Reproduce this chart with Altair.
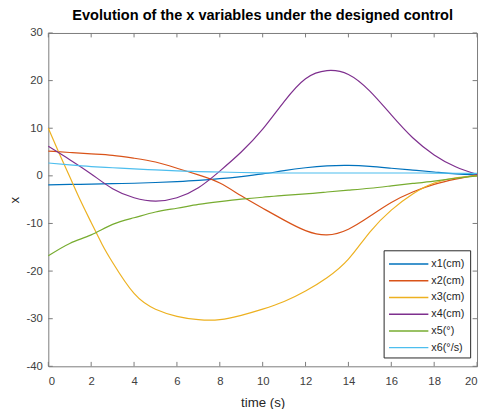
import altair as alt
import pandas as pd

t = list(range(0, 21))
t3 = [0, 0.5, 1, 1.5, 2, 2.5, 3, 4, 5, 6, 7, 8, 9, 10, 11, 12, 13, 14, 15, 16, 17, 18, 19, 20]

x1 = [-1.9, -1.8, -1.75, -1.65, -1.55, -1.4, -1.2, -0.95, -0.6, -0.15, 0.4, 1.1, 1.7, 2.1, 2.2, 2.0, 1.6, 1.2, 0.8, 0.4, 0.2]
x2 = [5.2, 4.9, 4.6, 4.3, 3.7, 2.9, 1.6, 0.2, -1.5, -4.2, -6.8, -9.3, -11.5, -12.4, -11.2, -8.5, -5.6, -3.4, -1.8, -0.7, 0.2]
x3 = [10, 4.8, -0.2, -5.2, -9.8, -14.3, -18.2, -24.7, -28.0, -29.5, -30.2, -30.2, -29.3, -28.0, -26.4, -24.2, -21.4, -17.5, -11.8, -7.2, -3.8, -1.5, -0.4, 0]
x4 = [6.2, 3.4, 0.4, -2.7, -4.6, -5.3, -4.6, -2.5, 1.0, 5.0, 9.8, 15.6, 20.4, 22.1, 21.3, 17.8, 12.8, 8.0, 4.4, 1.9, 0.3]
x5 = [-16.8, -14.2, -12.4, -10.2, -8.8, -7.6, -6.8, -6.0, -5.4, -4.9, -4.5, -4.1, -3.8, -3.4, -3.0, -2.6, -2.1, -1.6, -1.1, -0.5, 0.0]
x6 = [2.7, 2.3, 1.95, 1.7, 1.45, 1.25, 1.05, 0.9, 0.8, 0.7, 0.62, 0.6, 0.6, 0.6, 0.6, 0.6, 0.6, 0.6, 0.58, 0.55, 0.5]

labels = ["x1(cm)", "x2(cm)", "x3(cm)", "x4(cm)", "x5(°)", "x6(°/s)"]
colors = ["#0072BD", "#D95319", "#EDB120", "#7E2F8E", "#77AC30", "#4DBEEE"]

x_ticks = list(range(0, 21, 2))
y_ticks = list(range(-40, 31, 10))

rows = []
for lab, ts, vs in [(labels[0], t, x1), (labels[1], t, x2), (labels[2], t3, x3),
                    (labels[3], t, x4), (labels[4], t, x5), (labels[5], t, x6)]:
    for a, b in zip(ts, vs):
        rows.append({"time": a, "value": b, "series": lab})
df = pd.DataFrame(rows)

W, H = 436, 339
TL = 4.5
axis_col = "#7a7a7a"
FONT = "Liberation Sans"

xs = alt.Scale(domain=[0, 20], nice=False)
ys = alt.Scale(domain=[-40, 30], nice=False)

lines = alt.Chart(df).mark_line(strokeWidth=1.2, interpolate="natural").encode(
    x=alt.X("time:Q", scale=xs, title="time (s)",
            axis=alt.Axis(values=x_ticks, grid=False, domain=False, ticks=False,
                          labelPadding=10, titlePadding=8)),
    y=alt.Y("value:Q", scale=ys, title="x",
            axis=alt.Axis(values=y_ticks, grid=False, domain=False, ticks=False,
                          labelPadding=6, titlePadding=5,
                          labelExpr="toString(datum.value)")),
    color=alt.Color("series:N", scale=alt.Scale(domain=labels, range=colors),
                    legend=alt.Legend(title=None, orient="none", legendX=341, legendY=221,
                                      symbolType="M-2.5,0H2.5", symbolSize=256,
                                      symbolStrokeWidth=1.5, labelFontSize=11,
                                      labelColor="#262626", rowPadding=3,
                                      symbolOffset=11.5, labelOffset=14,
                                      padding=5, strokeColor="#262626",
                                      fillColor="white",
                                      labelExpr="datum.label + '      '")),
)

xt = pd.DataFrame({"tv": x_ticks})
yt = pd.DataFrame({"tv": y_ticks})

xb = alt.Chart(xt).mark_rule(color=axis_col, strokeWidth=1).encode(
    x=alt.X("tv:Q", scale=xs), y=alt.value(H), y2=alt.value(H - TL))
xtop = alt.Chart(xt).mark_rule(color=axis_col, strokeWidth=1).encode(
    x=alt.X("tv:Q", scale=xs), y=alt.value(0), y2=alt.value(TL))
yl = alt.Chart(yt).mark_rule(color=axis_col, strokeWidth=1).encode(
    y=alt.Y("tv:Q", scale=ys), x=alt.value(0), x2=alt.value(TL))
yr = alt.Chart(yt).mark_rule(color=axis_col, strokeWidth=1).encode(
    y=alt.Y("tv:Q", scale=ys), x=alt.value(W), x2=alt.value(W - TL))

chart = alt.layer(xb, xtop, yl, yr, lines).properties(
    width=W, height=H,
    title=alt.Title("Evolution of the x variables under the designed control",
                    fontSize=14.8, fontWeight="bold", color="#000000", offset=4,
                    font=FONT),
    autosize=alt.AutoSizeParams(type="none"),
    padding={"left": 41, "top": 22, "right": 2, "bottom": 40},
).configure_view(stroke=axis_col, strokeWidth=1).configure_axis(
    labelFont=FONT, titleFont=FONT,
    labelFontSize=11.5, titleFontSize=13.5, labelColor="#404040", titleColor="#262626",
    titleFontWeight="normal",
).configure_legend(labelFont=FONT)

chart.save("out.html", embed_options={"renderer": "svg", "actions": False})
